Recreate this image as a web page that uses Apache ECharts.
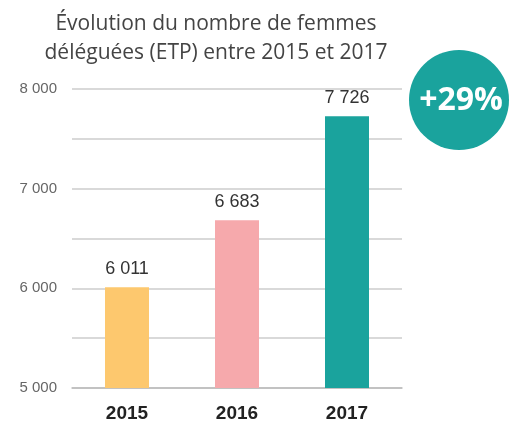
<!DOCTYPE html>
<html><head><meta charset="utf-8">
<script src="https://cdn.jsdelivr.net/npm/echarts@6/dist/echarts.min.js"></script>
<style>html,body{margin:0;padding:0;background:#fff}#c{width:511px;height:423px}</style>
</head><body><div id="c"></div>
<script>
const categories = ['2015', '2016', '2017'];
const values = [6011, 6683, 7726];
const barColors = ['#FDC86E', '#F6A9AC', '#1AA39D'];
const badgeText = '+29%';
const titleText = 'Évolution du nombre de femmes\ndéléguées (ETP) entre 2015 et 2017';

function fmt(v){ return String(v).replace(/\B(?=(\d{3})+(?!\d))/g, ' '); }

const chart = echarts.init(document.getElementById('c'));
chart.setOption({
  animation: false,
  title: {
    text: titleText,
    left: 211, top: 5, textAlign: 'center',
    textStyle: { fontFamily: 'Open Sans', fontWeight: 'normal', fontSize: 21, color: '#444', lineHeight: 29 }
  },
  grid: { left: 72, right: 109, top: 89, bottom: 34 },
  xAxis: {
    type: 'category', data: categories,
    axisLine: { lineStyle: { color: '#bbb', width: 1.5 } },
    axisTick: { show: false },
    axisLabel: { fontFamily: 'Liberation Sans', fontWeight: 'bold', fontSize: 19, color: '#222', margin: 16 }
  },
  yAxis: {
    type: 'value', min: 5000, max: 8000, interval: 500,
    axisLine: { show: false }, axisTick: { show: false },
    splitLine: { lineStyle: { color: '#ccc', width: 1.5 } },
    axisLabel: {
      fontFamily: 'Liberation Sans', fontSize: 15, color: '#666', margin: 15,
      formatter: v => (v % 1000 === 0 ? fmt(v) : '')
    }
  },
  series: [{
    type: 'bar', barWidth: 44,
    data: values.map((v, i) => ({ value: v, itemStyle: { color: barColors[i] } })),
    label: {
      show: true, position: 'top', distance: 9,
      fontFamily: 'Liberation Sans', fontSize: 18, color: '#333',
      formatter: p => fmt(p.value)
    }
  }],
  graphic: [
    { type: 'circle', shape: { cx: 459, cy: 100, r: 50 }, style: { fill: '#1AA39D' } },
    { type: 'text', x: 461, y: 101, style: { text: badgeText, fill: '#fff', font: 'bold 32px "Open Sans"', textAlign: 'center', textVerticalAlign: 'middle' } }
  ]
});
</script></body></html>
